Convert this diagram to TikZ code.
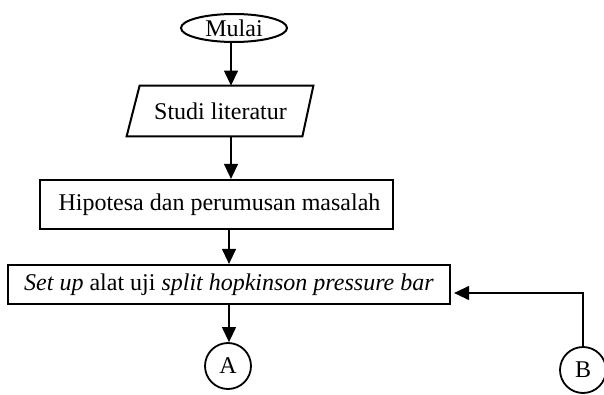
\documentclass[tikz,border=0pt]{standalone}
\usepackage{fontspec}
\setmainfont{Liberation Serif}
\usetikzlibrary{shapes.geometric,arrows.meta,calc}

\tikzset{
  box/.style={draw, line width=1.1pt, inner sep=0pt, align=center},
  term/.style={ellipse, draw, line width=1pt, inner sep=0pt,
               minimum width=53pt, minimum height=14pt},
  conn/.style={circle, draw, line width=0.9pt, inner sep=0pt, minimum size=23pt},
  flow/.style={line width=0.6pt, -{Triangle[length=7.5pt,width=7pt]}},
}

\begin{document}
\begin{tikzpicture}[x=0.5pt, y=-0.5pt, font=\fontsize{12pt}{14pt}\selectfont]
  \clip (0,0) rectangle (604,395);
  \fill[white] (0,0) rectangle (604,395);

  % column positions of the vertical connectors
  \coordinate (colA) at (231,0);
  \coordinate (colB) at (229,0);
  \coordinate (backlevel) at (0,293);

  % start terminal
  \node[term] (mulai) at (234,28) {Mulai};

  % input/output: literature study
  \node[minimum width=87pt, minimum height=25pt, inner sep=0pt] (studi) at (220.5,111) {Studi literatur};
  \draw[line width=1pt, line join=miter]
    ($(studi.north west)+(6.5,0)$) -- ($(studi.north east)+(5.5,0)$) --
    ($(studi.south east)+(-5.5,0)$) -- ($(studi.south west)+(-6.5,0)$) -- cycle;

  % process boxes
  \node[box, minimum width=176.5pt, minimum height=24.5pt] (hip) at (216.5,204.5)
    {\hspace*{3pt}Hipotesa dan perumusan masalah};
  \node[box, minimum width=221pt, minimum height=19.5pt] (setup) at (229,284.5)
    {\textit{Set up} alat uji \textit{split hopkinson pressure bar}};

  % off-page connectors
  \node[conn] (A) at (228,366) {A};
  \node[conn] (B) at (583,370) {B};

  % flow lines
  \draw[flow] (mulai.south -| colA) -- (studi.north -| colA);
  \draw[flow] (studi.south -| colA) -- (hip.north -| colA);
  \draw[flow] (hip.south -| colB) -- (setup.north -| colB);
  \draw[flow] (setup.south -| colB) -- (A.north -| colB);
  \draw[flow, shorten >=1.5pt] (B.north) |- (setup.east |- backlevel);
\end{tikzpicture}
\end{document}
